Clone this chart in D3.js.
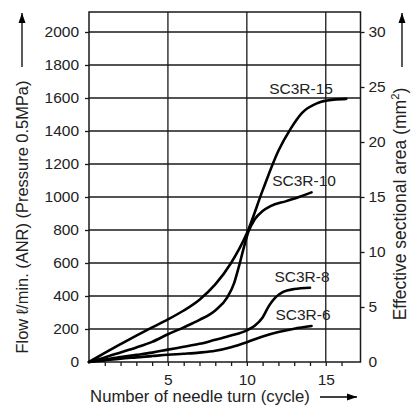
<!DOCTYPE html>
<html><head><meta charset="utf-8">
<script src="https://cdn.jsdelivr.net/npm/d3@7"></script>
<style>body{margin:0;background:#fff}svg text{font-family:"Liberation Sans",Arial,sans-serif;fill:#222}</style>
</head><body><svg id="c" width="411" height="406"></svg>
<script>
const flowTicks = [0,200,400,600,800,1000,1200,1400,1600,1800,2000];
const areaTicks = [0,5,10,15,20,25,30];
const xTicks = [5,10,15];
const series = ["SC3R-15","SC3R-10","SC3R-8","SC3R-6"];
const sc3r15 = [[0,0],[1,55],[2,108],[3,160],[4,210],[5,258],[6,312],[7,378],[8,470],[9,600],[10,780],[11,1040],[12,1280],[12.75,1410],[13.5,1510],[14.5,1570],[15.5,1590],[16.3,1595]];
const sc3r10 = [[0,0],[1,28],[2,58],[3,88],[4,122],[5,168],[6,210],[7,255],[8,312],[8.75,390],[9.2,480],[9.5,580],[9.8,690],[10.1,790],[10.5,865],[11,915],[11.5,945],[12.5,975],[13.3,1000],[14.1,1028]];
const sc3r8 = [[0,0],[1,15],[2,30],[3,43],[4,57],[5,75],[6,92],[7,110],[8,135],[9,160],[10,192],[10.5,220],[11,270],[11.4,340],[11.8,390],[12.3,425],[13,442],[14,450]];
const sc3r6 = [[0,0],[1,10],[2,20],[3,28],[4,36],[5,44],[6,50],[7,57],[8,68],[9,90],[10,120],[11,155],[12,182],[13,202],[14.1,218]];
const seriesData = [sc3r15, sc3r10, sc3r8, sc3r6];

const svg = d3.select("#c");
const L=89, R=360.5, T=12, B=362;
const x = d3.scaleLinear().domain([0,17.2]).range([L,R]);
const y = d3.scaleLinear().domain([0,2000]).range([B,32]);
const y2 = d3.scaleLinear().domain([0,30]).range([B,32]);
const ink="#1a1a1a";
const FF='"Liberation Sans",Arial,sans-serif';

// grid
const g = svg.append("g");
g.selectAll(".h").data(flowTicks.slice(1)).join("line")
 .attr("x1",L).attr("x2",R).attr("y1",d=>y(d)).attr("y2",d=>y(d)).attr("stroke",ink).attr("stroke-width",1.3);
g.selectAll(".v").data(xTicks).join("line")
 .attr("x1",d=>x(d)).attr("x2",d=>x(d)).attr("y1",T).attr("y2",B).attr("stroke",ink).attr("stroke-width",1.3);
g.append("rect").attr("x",L).attr("y",T).attr("width",R-L).attr("height",B-T).attr("fill","none").attr("stroke",ink).attr("stroke-width",1.5);

// axes
const ax = svg.append("g").attr("transform",`translate(${L},0)`).call(d3.axisLeft(y).tickValues(flowTicks).tickFormat(d3.format("d")).tickSize(4).tickPadding(6));
const ax2 = svg.append("g").attr("transform",`translate(${R},0)`).call(d3.axisRight(y2).tickValues(areaTicks).tickFormat(d3.format("d")).tickSize(4).tickPadding(4));
const ax3 = svg.append("g").attr("transform",`translate(0,${B})`).call(d3.axisBottom(x).tickValues(d3.range(1,17)).tickSize(4).tickFormat(d=>xTicks.includes(d)?d:"").tickPadding(8));
[ax,ax2,ax3].forEach(a=>{a.select(".domain").remove();a.selectAll("line").attr("stroke",ink).attr("stroke-width",1.3);a.selectAll("text").attr("font-size",15.5).attr("fill","#222").attr("font-family",FF);});
ax2.selectAll(".tick").filter(d=>d===0).select("line").remove();
ax.selectAll(".tick").filter(d=>d===0).select("line").remove();

// curves
const line = d3.line().x(d=>x(d[0])).y(d=>y(d[1])).curve(d3.curveMonotoneX);
svg.selectAll(".curve").data(seriesData).join("path").attr("d",line).attr("fill","none").attr("stroke","#000").attr("stroke-width",2.6).attr("stroke-linecap","round");

// labels
const labPos = [[301,94],[304,186],[302,282],[303,320]];
svg.selectAll(".lab").data(series).join("text").attr("x",(d,i)=>labPos[i][0]).attr("y",(d,i)=>labPos[i][1]).attr("text-anchor","middle").attr("font-size",15.5).text(d=>d);

function fit(sel, target){
  const n = sel.node(); const fs = +sel.attr("font-size");
  const w = n.getComputedTextLength();
  sel.attr("font-size", fs*target/w);
}

// titles
const bt = svg.append("text").attr("x",200).attr("y",402).attr("text-anchor","middle").attr("font-size",15).text("Number of needle turn (cycle)");
fit(bt,220);
svg.append("defs").append("marker").attr("id","ah").attr("viewBox","0 0 10 10").attr("refX",10).attr("refY",5).attr("markerWidth",11).attr("markerHeight",10).attr("markerUnits","userSpaceOnUse").attr("orient","auto")
 .append("path").attr("d","M0,1.5L10,5L0,8.5Z").attr("fill","#000");
svg.append("line").attr("x1",320).attr("x2",357).attr("y1",397).attr("y2",397).attr("stroke","#000").attr("stroke-width",1.3).attr("marker-end","url(#ah)");

const lt = svg.append("text").attr("transform","translate(28,217) rotate(-90)").attr("text-anchor","middle").attr("font-size",15).text("Flow ℓ/min. (ANR) (Pressure 0.5MPa)");
fit(lt,273);
svg.append("line").attr("x1",22).attr("x2",22).attr("y1",67).attr("y2",13).attr("stroke","#000").attr("stroke-width",1.3).attr("marker-end","url(#ah)");

const rfs = 17.5;
const rt = svg.append("text").attr("transform","translate(406,204) rotate(-90)").attr("text-anchor","middle").attr("font-size",rfs);
rt.append("tspan").text("Effective sectional area (mm");
rt.append("tspan").attr("font-size",rfs*0.65).attr("dy",-rfs*0.4).text("2");
rt.append("tspan").attr("dy",rfs*0.4).text(")");
svg.append("line").attr("x1",402).attr("x2",402).attr("y1",67).attr("y2",13).attr("stroke","#000").attr("stroke-width",1.3).attr("marker-end","url(#ah)");
</script></body></html>
